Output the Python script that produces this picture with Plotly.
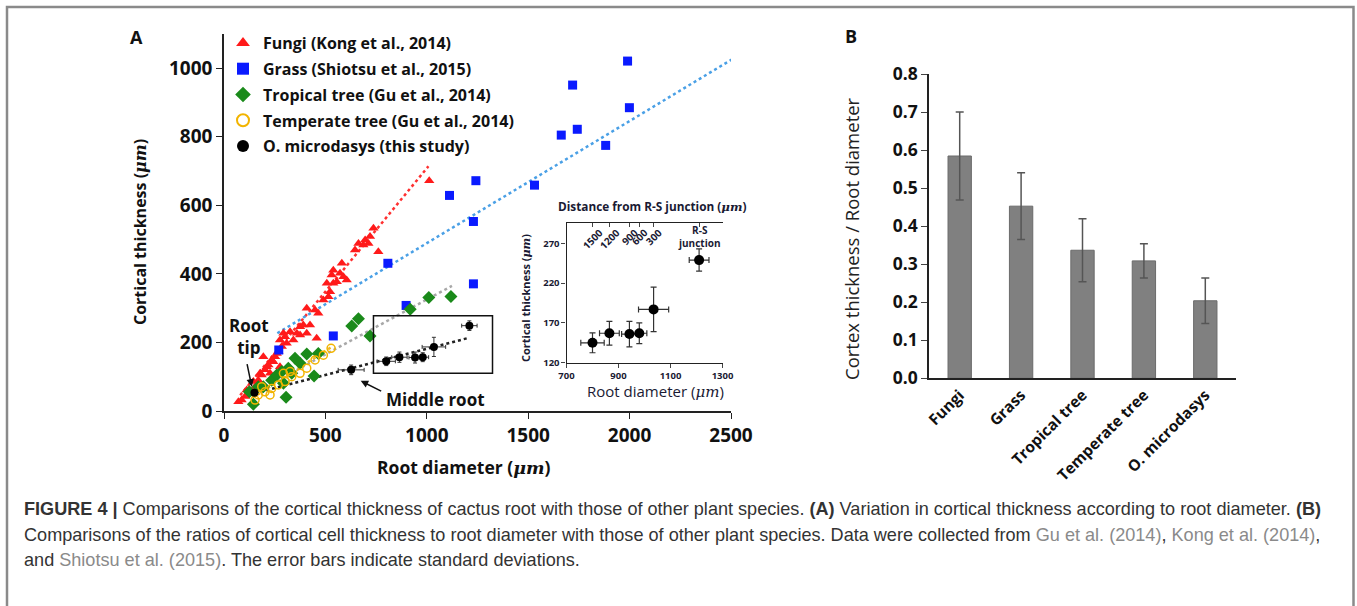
import plotly.graph_objects as go

W, H = 1357, 606
def PX(x): return x / W
def PY(y): return 1 - y / H

FONT = "Open Sans, Noto Sans, DejaVu Sans"
CAPF = "Liberation Sans, Arial, sans-serif"
INK = "#111111"
UM = "(<span style='font-family:DejaVu Serif'><i>μm</i></span>)"

# ---------------- Panel A data ----------------
fungi_d = [71, 87, 104, 112, 128, 145, 153, 169, 178, 186, 194, 202, 211, 219, 227, 235, 243, 252,
           260, 268, 276, 276, 285, 293, 301, 309, 326, 342, 359, 375, 375, 391, 408, 408, 424, 449,
           457, 465, 490, 507, 515, 523, 531, 539, 539, 556, 572, 581, 589, 605, 646, 663, 687, 696,
           712, 720, 737, 761, 1012]
fungi_t = [27, 32, 42, 61, 56, 86, 71, 90, 110, 105, 158, 120, 129, 134, 110, 149, 144, 158,
           168, 173, 129, 207, 188, 227, 217, 198, 231, 207, 227, 222, 246, 251, 227, 300, 251, 295,
           212, 285, 324, 373, 333, 348, 397, 373, 411, 377, 402, 431, 392, 382, 470, 489, 484, 499,
           489, 509, 533, 465, 672]

grass_d = [270, 539, 898, 808, 1112, 1230, 1230, 1242, 1531, 1663, 1742, 1719, 1882, 1999, 1990]
grass_t = [178, 219, 308, 431, 629, 553, 371, 672, 659, 805, 822, 951, 775, 885, 1021]

tropical_d = [125, 145, 169, 194, 235, 260, 285, 293, 306, 317, 334, 350, 375, 408, 444, 465,
              630, 663, 720, 918, 1010, 1119]
tropical_t = [56, 20, 71, 71, 90, 105, 115, 81, 40, 125, 110, 154, 139, 166, 102, 168,
              248, 269, 219, 297, 331, 334]

temperate_d = [153, 169, 186, 202, 227, 235, 268, 293, 301, 326, 334, 375, 408, 449, 490, 528]
temperate_t = [32, 47, 71, 56, 47, 66, 76, 110, 86, 115, 100, 110, 125, 149, 163, 183]

micro_d = [150, 627, 800, 865, 942, 980, 1035, 1210]
micro_t = [53, 120, 145, 157, 156, 157, 187, 249]
micro_d_sd = [12, 64, 45, 38, 30, 29, 58, 38]
micro_t_sd = [5, 14, 12.5, 15, 16, 13, 28, 14]

# trend lines (end points)
fungi_fit_d, fungi_fit_t = [80, 1008], [46, 714]
grass_fit_d, grass_fit_t = [263, 2505], [227, 1026]
tropical_fit_d, tropical_fit_t = [150, 1124], [53, 365]
temperate_fit_d, temperate_fit_t = [140, 528], [38, 186]
micro_fit_d, micro_fit_t = [151, 1198], [52, 212]

box_d = [737, 1324]
box_t = [110, 278]

distance_labels = ["1500", "1200", "900", "600", "300"]

# ---------------- Panel B data ----------------
groups = ["Fungi", "Grass", "Tropical tree", "Temperate tree", "O. microdasys"]
ratio = [0.585, 0.453, 0.337, 0.309, 0.204]
ratio_sd = [0.116, 0.088, 0.083, 0.045, 0.060]

fig = go.Figure()

for d, t, c in [(fungi_fit_d, fungi_fit_t, "#ff3030"),
                (grass_fit_d, grass_fit_t, "#4aa0e6"),
                (tropical_fit_d, tropical_fit_t, "#a8a8a8"),
                (temperate_fit_d, temperate_fit_t, "#f2b822"),
                (micro_fit_d, micro_fit_t, "#222222")]:
    fig.add_trace(go.Scatter(x=d, y=t, mode="lines", line=dict(color=c, width=2.5, dash="dot"),
                             showlegend=False, hoverinfo="skip", xaxis="x", yaxis="y"))

fig.add_trace(go.Scatter(x=fungi_d, y=fungi_t, mode="markers", name="Fungi (Kong et al., 2014)",
                         legendgroup="a", marker=dict(symbol="triangle-up", color="#ff1a1a", size=9),
                         xaxis="x", yaxis="y"))
fig.add_trace(go.Scatter(x=grass_d, y=grass_t, mode="markers", name="Grass (Shiotsu et al., 2015)",
                         legendgroup="b", marker=dict(symbol="square", color="#0a1aff", size=9),
                         xaxis="x", yaxis="y"))
fig.add_trace(go.Scatter(x=tropical_d, y=tropical_t, mode="markers", name="Tropical tree (Gu et al., 2014)",
                         legendgroup="c", marker=dict(symbol="diamond", color="#1a8a1a", size=10),
                         xaxis="x", yaxis="y"))
fig.add_trace(go.Scatter(x=temperate_d, y=temperate_t, mode="markers", name="Temperate tree (Gu et al., 2014)",
                         legendgroup="d", marker=dict(symbol="circle-open", color="#f2b400", size=8,
                                                      line=dict(width=1.5, color="#f2b400")),
                         xaxis="x", yaxis="y"))
fig.add_trace(go.Scatter(x=micro_d, y=micro_t, mode="markers", name="O. microdasys (this study)",
                         legendgroup="e", marker=dict(symbol="circle", color="#000000", size=8),
                         error_x=dict(type="data", array=micro_d_sd, color="#333", thickness=1, width=2),
                         error_y=dict(type="data", array=micro_t_sd, color="#333", thickness=1, width=2),
                         xaxis="x", yaxis="y"))

fig.add_trace(go.Scatter(x=micro_d[2:], y=micro_t[2:], mode="markers", showlegend=False,
                         marker=dict(symbol="circle", color="#000000", size=10),
                         error_x=dict(type="data", array=micro_d_sd[2:], color="#333", thickness=1.2, width=3),
                         error_y=dict(type="data", array=micro_t_sd[2:], color="#333", thickness=1.2, width=3),
                         xaxis="x2", yaxis="y2"))
fig.add_trace(go.Scatter(x=micro_d[2:], y=micro_t[2:], mode="markers", showlegend=False,
                         marker=dict(opacity=0), hoverinfo="skip", xaxis="x3", yaxis="y2"))

fig.add_trace(go.Bar(x=groups, y=ratio, showlegend=False, width=0.38,
                     marker=dict(color="#808080", line=dict(color="#6a6a6a", width=1)),
                     error_y=dict(type="data", array=ratio_sd, color="#555555", thickness=1.5, width=4),
                     xaxis="x4", yaxis="y4"))

tickf = dict(family=FONT, size=19, color=INK, weight="bold")
tickfb = dict(family=FONT, size=17.5, color=INK, weight="bold")
insf = dict(family=FONT, size=9.5, color="#1a1a33", weight="bold")
common = dict(showgrid=False, zeroline=False, automargin=False)

fig.update_layout(
    width=W, height=H, margin=dict(l=0, r=0, t=0, b=0, autoexpand=False), autosize=False,
    paper_bgcolor="white", plot_bgcolor="rgba(0,0,0,0)",
    font=dict(family=FONT, color=INK),
    xaxis=dict(domain=[PX(224), PX(731)], range=[0, 2500], tickvals=[0, 500, 1000, 1500, 2000, 2500],
               showline=True, linecolor="#222", linewidth=1.5, ticks="outside", ticklen=6,
               tickcolor="#222", tickfont=tickf, anchor="y", **common),
    yaxis=dict(domain=[PY(411), PY(34)], range=[0, 1100], tickvals=[0, 200, 400, 600, 800, 1000],
               showline=True, linecolor="#222", linewidth=1.5, ticks="outside", ticklen=6,
               tickcolor="#222", tickfont=tickf, anchor="x", **common),
    xaxis2=dict(domain=[PX(566.5), PX(722.5)], range=[700, 1300], tickvals=[700, 900, 1100, 1300],
                showline=True, linecolor="#222", linewidth=1.2, ticks="outside", ticklen=4,
                tickfont=insf, anchor="y2", **common),
    yaxis2=dict(domain=[PY(362.7), PY(222.7)], range=[120, 296], tickvals=[120, 170, 220, 270],
                showline=True, linecolor="#222", linewidth=1.2, ticks="outside", ticklen=4,
                tickfont=insf, anchor="x2", **common),
    xaxis3=dict(overlaying="x2", side="top", range=[700, 1300], tickvals=micro_d[2:],
                showticklabels=False, showline=True, linecolor="#222", linewidth=1.2,
                ticks="inside", ticklen=4, anchor="y2", **common),
    xaxis4=dict(domain=[PX(929), PX(1236)], range=[-0.5, 4.5], type="category",
                showline=True, linecolor="#222", linewidth=1.5, ticks="", tickangle=-45,
                tickfont=dict(family=FONT, size=15.5, color=INK, weight="bold"), anchor="y4", **common),
    yaxis4=dict(domain=[PY(378.3), PY(74.3)], range=[0, 0.8], dtick=0.1, tickformat=".1f",
                showline=True, linecolor="#222", linewidth=1.5, ticks="outside", ticklen=6,
                tickfont=tickfb, anchor="x4", **common),
    legend=dict(x=PX(223), y=PY(26), xanchor="left", yanchor="top", bgcolor="rgba(0,0,0,0)",
                font=dict(family=FONT, size=16, color=INK, weight="bold"),
                tracegroupgap=2, itemsizing="constant"),
    bargap=0.6,
)

ann = []
def T(x, y, text, size=16, bold=True, angle=0, xa="center", ya="middle", color=INK, family=FONT):
    ann.append(dict(x=PX(x), y=PY(y), xref="paper", yref="paper", text=text, showarrow=False,
                    textangle=angle, xanchor=xa, yanchor=ya,
                    font=dict(family=family, size=size, color=color, weight="bold" if bold else "normal")))

T(136, 37, "A", 18)
T(851, 36, "B", 18)
T(464, 467, "Root diameter " + UM, 17.5)
T(140, 232, "Cortical thickness " + UM, 16, angle=-90)
T(655, 391, "Root diameter " + UM, 15, bold=False, color="#1a1a33")
T(525, 298, "Cortical thickness " + UM, 11, angle=-90, color="#1a1a33")
T(652, 206, "Distance from R-S junction " + UM, 11.8, color="#1a1a33")
T(851, 239, "Cortex thickness / Root diameter", 18.5, bold=False, angle=-90, color="#222")
T(249, 336, "Root<br>tip", 17)
T(436, 399, "Middle root", 17)

for d, lab in zip(micro_d[2:7], distance_labels):
    ann.append(dict(x=d, xref="x2", y=PY(239 if len(lab) == 4 else 237), yref="paper", text=lab,
                    showarrow=False, textangle=-45, xanchor="center", yanchor="middle",
                    font=dict(family=FONT, size=10, color="#1a1a33", weight="bold")))
ann.append(dict(x=micro_d[7], xref="x2", y=PY(236), yref="paper", text="R-S<br>junction",
                showarrow=False, xanchor="center", yanchor="middle",
                font=dict(family=FONT, size=10, color="#1a1a33", weight="bold")))

ann.append(dict(x=137, y=71, xref="x", yref="y", text="", showarrow=True, arrowhead=2, arrowsize=1,
                arrowwidth=1.5, arrowcolor="#111", ax=-5, ay=-24))
ann.append(dict(x=674, y=88, xref="x", yref="y", text="", showarrow=True, arrowhead=2, arrowsize=1,
                arrowwidth=1.5, arrowcolor="#111", ax=22, ay=11))

G = "#8a8a8a"
cap1 = ("<b>FIGURE 4 |</b> Comparisons of the cortical thickness of cactus root with those of other plant species. "
        "<b>(A)</b> Variation in cortical thickness according to root diameter. <b>(B)</b>")
cap2 = ("Comparisons of the ratios of cortical cell thickness to root diameter with those of other plant species. "
        f"Data were collected from <span style='color:{G}'>Gu et al. (2014)</span>, "
        f"<span style='color:{G}'>Kong et al. (2014)</span>,")
cap3 = (f"and <span style='color:{G}'>Shiotsu et al. (2015)</span>. The error bars indicate standard deviations.")
for yy, c in [(509, cap1), (535, cap2), (560, cap3)]:
    T(22, yy, c, 18.1, bold=False, xa="left", color="#333", family=CAPF)

fig.update_layout(annotations=ann)

shapes = [
    dict(type="rect", xref="x", yref="y", x0=box_d[0], x1=box_d[1], y0=box_t[0], y1=box_t[1],
         line=dict(color="#111", width=1.5)),
    dict(type="rect", xref="paper", yref="paper", x0=PX(7), x1=PX(1353.5), y0=PY(640), y1=PY(7),
         line=dict(color="#8a8a8a", width=2.5)),
]
fig.update_layout(shapes=shapes)

fig.write_html(
    "out.html",
    config={"displayModeBar": False},
    post_script="document.body.style.margin='0';",
)
